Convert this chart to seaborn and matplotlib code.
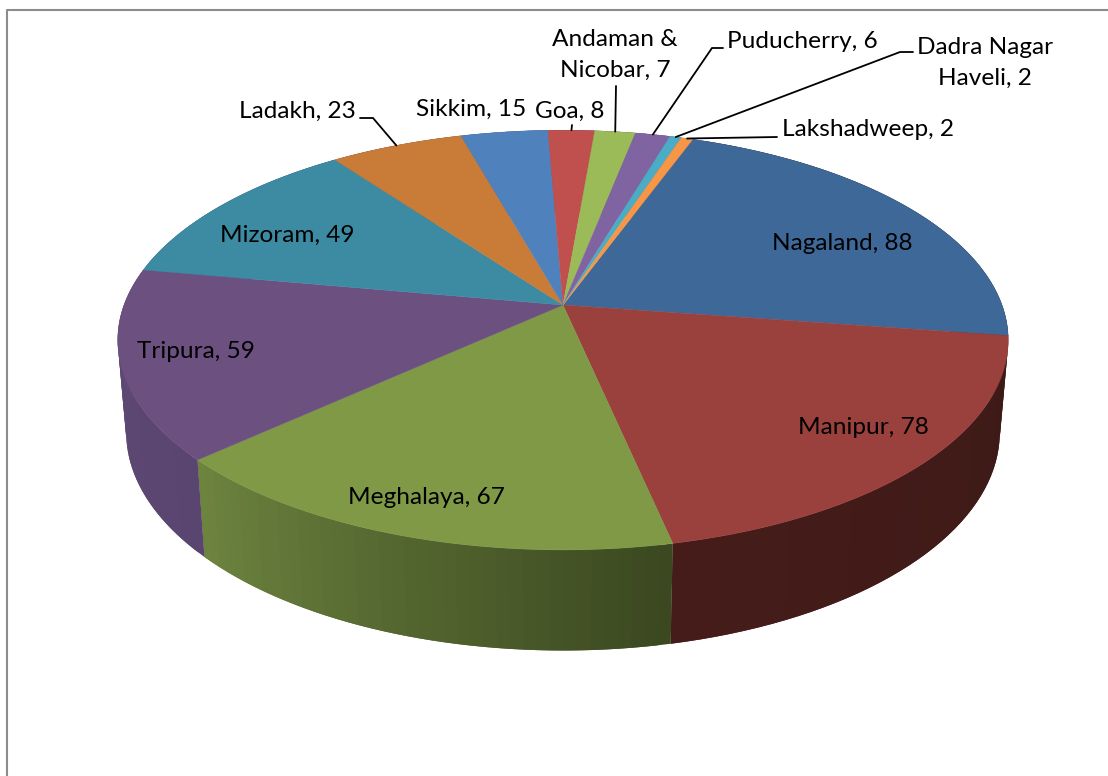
import numpy as np
import matplotlib
matplotlib.use('Agg')
import matplotlib.pyplot as plt
import seaborn as sns

# Data
states = ['Nagaland', 'Manipur', 'Meghalaya', 'Tripura', 'Mizoram', 'Ladakh',
          'Sikkim', 'Goa', 'Andaman &\nNicobar', 'Puducherry', 'Dadra Nagar\nHaveli', 'Lakshadweep']
counts = [88, 78, 67, 59, 49, 23, 15, 8, 7, 6, 2, 2]
top_colors = ['#3e6898', '#9a403d', '#7f9946', '#6b5080', '#3c8ba3', '#c97b38',
              '#4f81bd', '#c0504d', '#9bbb59', '#8064a2', '#4bacc6', '#f79646']

# wall shade at the start and end of each visible slice
wall_start = ['#3d1a17', '#3d1a17', '#3b4820', '#5a4570', '#5e4a75', '#5e4a75',
              '#5e4a75', '#5e4a75', '#5e4a75', '#5e4a75', '#5e4a75', '#5e4a75']
wall_end = ['#3d1a17', '#451c1a', '#6d843f', '#5e4a75', '#5e4a75', '#5e4a75',
            '#5e4a75', '#5e4a75', '#5e4a75', '#5e4a75', '#5e4a75', '#5e4a75']

label_xy = [(842, 243), (863, 427), (426, 498), (196, 352), (287, 235), (297, 111),
            (471, 109), (570, 111), (615, 55), (802, 41), (985, 63), (868, 130)]

# label-side points of the leader lines, rim point comes from the slice angle
leaders = {5: [(360, 118), (373, 118)],
           7: [(572, 125)],
           8: [(616, 86)],
           9: [(723, 48), (712, 48)],
           10: [(913, 52), (900, 52)],
           11: [(777, 137)]}

# perspective of the pie disc, in pixels
CX, CY = 563, 305
A, B, K = 439, 204, 0.167
START = 20.0
DROP, BOTTOM_B, BOTTOM_SX = 91, 212, 0.981


def top_ring(theta):
    t = np.radians(theta)
    w = 1 + K * np.cos(t)
    return CX + A * np.sin(t) / w, CY - B * np.cos(t) / w


def bottom_ring(theta):
    t = np.radians(theta)
    w = 1 + K * np.cos(t)
    return CX + BOTTOM_SX * A * np.sin(t) / w, CY + DROP - BOTTOM_B * np.cos(t) / w


sns.set_theme(style='white')
plt.rcParams['font.family'] = ['Lato', 'DejaVu Sans']
palette = sns.color_palette(top_colors)

fig = plt.figure(figsize=(11.08, 7.76), dpi=100)
ax = fig.add_axes([0, 0, 1, 1])
ax.set_xlim(0, 1108)
ax.set_ylim(776, 0)
ax.axis('off')

# chart frame, open at the bottom and right like the crop
ax.plot([7, 7, 1108], [776, 10, 10], color='#8c8c8c', lw=1.5, zorder=1)

edges = START + np.concatenate([[0], np.cumsum(counts)]) * 360 / sum(counts)

# side walls as thin overlapping strips so the gradient has no seams
for i in range(len(counts)):
    c0 = np.array(matplotlib.colors.to_rgb(wall_start[i]))
    c1 = np.array(matplotlib.colors.to_rgb(wall_end[i]))
    steps = np.linspace(edges[i], edges[i + 1], 41)
    for j in range(40):
        xt, yt = top_ring(steps[j:j + 3])
        xb, yb = bottom_ring(steps[j:j + 3])
        col = c0 + (c1 - c0) * j / 39
        ax.fill(np.r_[xt, xb[::-1]], np.r_[yt, yb[::-1]], facecolor=col, edgecolor='none', lw=0, zorder=2)

# top face
for i in range(len(counts)):
    steps = np.linspace(edges[i], edges[i + 1], 80)
    x, y = top_ring(steps)
    ax.fill(np.r_[CX, x], np.r_[CY, y], color=palette[i], lw=0.3, zorder=3)

# leader lines
for i, pts in leaders.items():
    rim_x, rim_y = top_ring((edges[i] + edges[i + 1]) / 2)
    ax.plot([p[0] for p in pts] + [rim_x], [p[1] for p in pts] + [rim_y],
            color='black', lw=1.3, zorder=4, solid_joinstyle='miter')

# labels
for name, count, (x, y) in zip(states, counts, label_xy):
    ax.text(x, y, f'{name}, {count}', ha='center', va='center', ma='center',
            fontsize=17.6, color='black', linespacing=1.55, zorder=5)

plt.savefig('out.png', dpi=100)
plt.close()
